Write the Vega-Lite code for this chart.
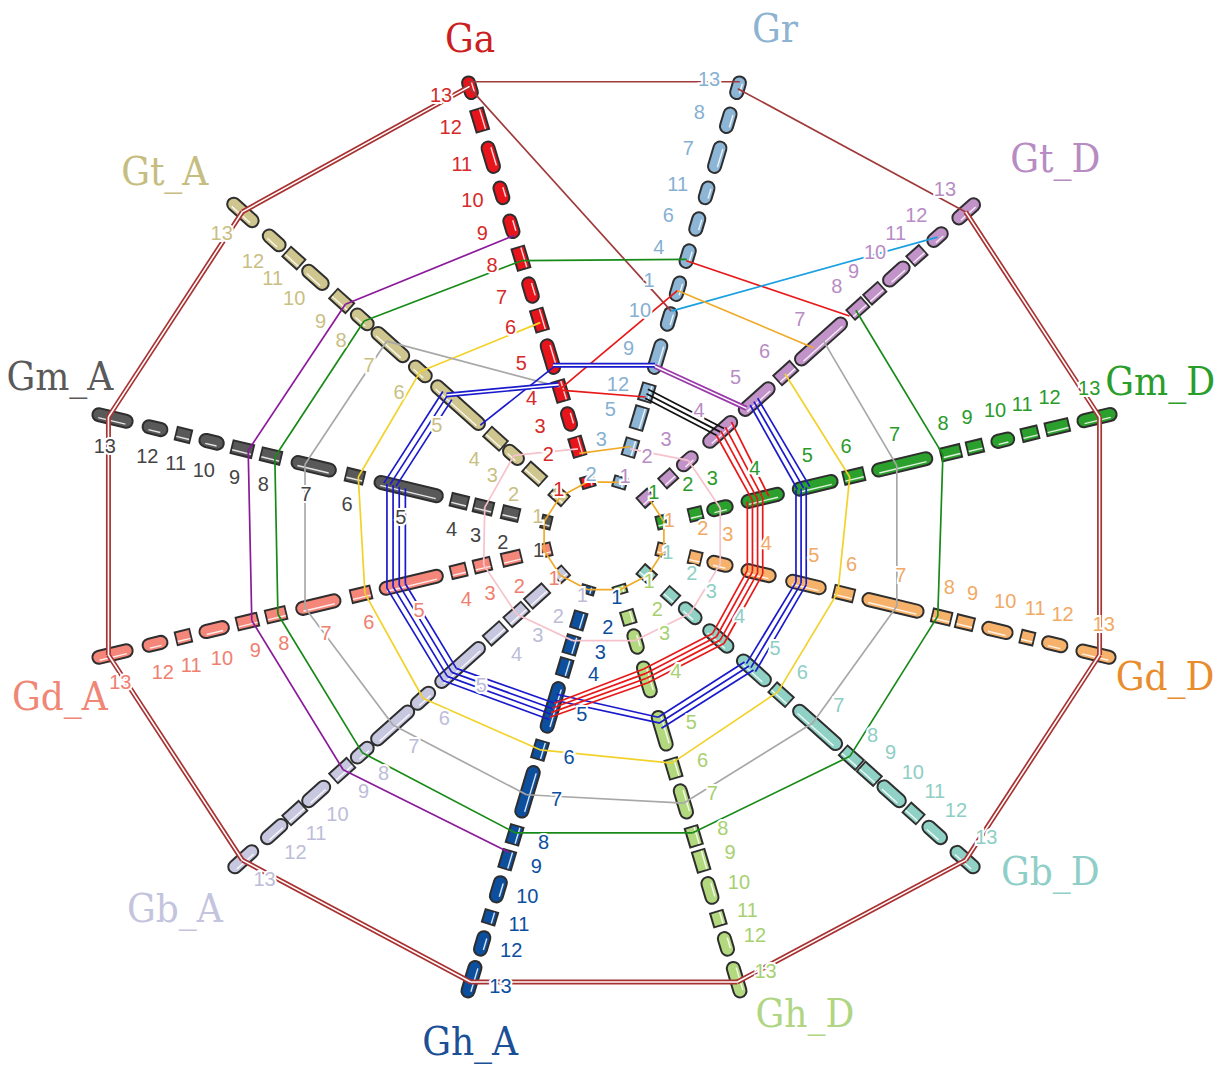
{
"$schema":"https://vega.github.io/schema/vega-lite/v6.json",
"width":1217,"height":1065,"padding":0,"autosize":{"type":"none"},
"background":"white",
"config":{"view":{"stroke":null}},
"datasets":{
"axes":[{"g":"Gr","k":0},{"g":"Gt_D","k":1},{"g":"Gm_D","k":2},{"g":"Gd_D","k":3},{"g":"Gb_D","k":4},{"g":"Gh_D","k":5},{"g":"Gh_A","k":6},{"g":"Gb_A","k":7},{"g":"Gd_A","k":8},{"g":"Gm_A","k":9},{"g":"Gt_A","k":10},{"g":"Ga","k":11}],
"chr":[
{"g":"Ga","c":"13","r0":0.954,"r1":1.0},{"g":"Ga","c":"12","r0":0.885,"r1":0.928},{"g":"Ga","c":"11","r0":0.793,"r1":0.858},{"g":"Ga","c":"10","r0":0.725,"r1":0.771},{"g":"Ga","c":"9","r0":0.651,"r1":0.699},{"g":"Ga","c":"8","r0":0.584,"r1":0.627},{"g":"Ga","c":"7","r0":0.51,"r1":0.562},{"g":"Ga","c":"6","r0":0.449,"r1":0.492},{"g":"Ga","c":"5","r0":0.355,"r1":0.427},{"g":"Ga","c":"4","r0":0.296,"r1":0.336},{"g":"Ga","c":"3","r0":0.231,"r1":0.279},{"g":"Ga","c":"2","r0":0.176,"r1":0.213},{"g":"Ga","c":"1","r0":0.108,"r1":0.128},
{"g":"Gr","c":"13","r0":0.954,"r1":1.0},{"g":"Gr","c":"8","r0":0.88,"r1":0.932},{"g":"Gr","c":"7","r0":0.793,"r1":0.858},{"g":"Gr","c":"11","r0":0.725,"r1":0.771},{"g":"Gr","c":"6","r0":0.656,"r1":0.704},{"g":"Gr","c":"4","r0":0.586,"r1":0.634},{"g":"Gr","c":"1","r0":0.514,"r1":0.564},{"g":"Gr","c":"10","r0":0.449,"r1":0.497},{"g":"Gr","c":"9","r0":0.355,"r1":0.427},{"g":"Gr","c":"12","r0":0.296,"r1":0.329},{"g":"Gr","c":"5","r0":0.235,"r1":0.279},{"g":"Gr","c":"3","r0":0.176,"r1":0.209},{"g":"Gr","c":"2","r0":0.107,"r1":0.126},
{"g":"Gt_D","c":"13","r0":0.935,"r1":0.998},{"g":"Gt_D","c":"12","r0":0.868,"r1":0.912},{"g":"Gt_D","c":"11","r0":0.82,"r1":0.85},{"g":"Gt_D","c":"10","r0":0.75,"r1":0.81},{"g":"Gt_D","c":"9","r0":0.705,"r1":0.74},{"g":"Gt_D","c":"8","r0":0.66,"r1":0.695},{"g":"Gt_D","c":"7","r0":0.515,"r1":0.643},{"g":"Gt_D","c":"6","r0":0.465,"r1":0.505},{"g":"Gt_D","c":"5","r0":0.365,"r1":0.45},{"g":"Gt_D","c":"4","r0":0.27,"r1":0.35},{"g":"Gt_D","c":"3","r0":0.2,"r1":0.245},{"g":"Gt_D","c":"2","r0":0.158,"r1":0.185},{"g":"Gt_D","c":"1","r0":0.1,"r1":0.125},
{"g":"Gm_D","c":"13","r0":0.926,"r1":1.0},{"g":"Gm_D","c":"12","r0":0.865,"r1":0.906},{"g":"Gm_D","c":"11","r0":0.818,"r1":0.846},{"g":"Gm_D","c":"10","r0":0.758,"r1":0.8},{"g":"Gm_D","c":"9","r0":0.711,"r1":0.738},{"g":"Gm_D","c":"8","r0":0.66,"r1":0.695},{"g":"Gm_D","c":"7","r0":0.525,"r1":0.64},{"g":"Gm_D","c":"6","r0":0.47,"r1":0.506},{"g":"Gm_D","c":"5","r0":0.37,"r1":0.455},{"g":"Gm_D","c":"4","r0":0.27,"r1":0.35},{"g":"Gm_D","c":"3","r0":0.203,"r1":0.25},{"g":"Gm_D","c":"2","r0":0.168,"r1":0.19},{"g":"Gm_D","c":"1","r0":0.105,"r1":0.12},
{"g":"Gd_D","c":"13","r0":0.924,"r1":0.998},{"g":"Gd_D","c":"12","r0":0.857,"r1":0.904},{"g":"Gd_D","c":"11","r0":0.816,"r1":0.838},{"g":"Gd_D","c":"10","r0":0.74,"r1":0.797},{"g":"Gd_D","c":"9","r0":0.69,"r1":0.72},{"g":"Gd_D","c":"8","r0":0.643,"r1":0.676},{"g":"Gd_D","c":"7","r0":0.506,"r1":0.623},{"g":"Gd_D","c":"6","r0":0.451,"r1":0.486},{"g":"Gd_D","c":"5","r0":0.357,"r1":0.432},{"g":"Gd_D","c":"4","r0":0.27,"r1":0.334},{"g":"Gd_D","c":"3","r0":0.203,"r1":0.25},{"g":"Gd_D","c":"2","r0":0.168,"r1":0.188},{"g":"Gd_D","c":"1","r0":0.105,"r1":0.12},
{"g":"Gb_D","c":"13","r0":0.93,"r1":0.997},{"g":"Gb_D","c":"12","r0":0.855,"r1":0.91},{"g":"Gb_D","c":"11","r0":0.81,"r1":0.842},{"g":"Gb_D","c":"10","r0":0.735,"r1":0.8},{"g":"Gb_D","c":"9","r0":0.688,"r1":0.728},{"g":"Gb_D","c":"8","r0":0.64,"r1":0.68},{"g":"Gb_D","c":"7","r0":0.51,"r1":0.63},{"g":"Gb_D","c":"6","r0":0.452,"r1":0.493},{"g":"Gb_D","c":"5","r0":0.36,"r1":0.44},{"g":"Gb_D","c":"4","r0":0.27,"r1":0.34},{"g":"Gb_D","c":"3","r0":0.205,"r1":0.255},{"g":"Gb_D","c":"2","r0":0.165,"r1":0.19},{"g":"Gb_D","c":"1","r0":0.1,"r1":0.128},
{"g":"Gh_D","c":"13","r0":0.93,"r1":1.004},{"g":"Gh_D","c":"12","r0":0.865,"r1":0.913},{"g":"Gh_D","c":"11","r0":0.821,"r1":0.847},{"g":"Gh_D","c":"10","r0":0.745,"r1":0.8},{"g":"Gh_D","c":"9","r0":0.688,"r1":0.728},{"g":"Gh_D","c":"8","r0":0.636,"r1":0.673},{"g":"Gh_D","c":"7","r0":0.543,"r1":0.614},{"g":"Gh_D","c":"6","r0":0.488,"r1":0.525},{"g":"Gh_D","c":"5","r0":0.383,"r1":0.466},{"g":"Gh_D","c":"4","r0":0.275,"r1":0.35},{"g":"Gh_D","c":"3","r0":0.205,"r1":0.255},{"g":"Gh_D","c":"2","r0":0.165,"r1":0.19},{"g":"Gh_D","c":"1","r0":0.11,"r1":0.124},
{"g":"Gh_A","c":"13","r0":0.928,"r1":1.004},{"g":"Gh_A","c":"12","r0":0.863,"r1":0.913},{"g":"Gh_A","c":"11","r0":0.819,"r1":0.843},{"g":"Gh_A","c":"10","r0":0.743,"r1":0.797},{"g":"Gh_A","c":"9","r0":0.688,"r1":0.723},{"g":"Gh_A","c":"8","r0":0.634,"r1":0.669},{"g":"Gh_A","c":"7","r0":0.503,"r1":0.612},{"g":"Gh_A","c":"6","r0":0.449,"r1":0.484},{"g":"Gh_A","c":"5","r0":0.32,"r1":0.427},{"g":"Gh_A","c":"4","r0":0.27,"r1":0.303},{"g":"Gh_A","c":"3","r0":0.22,"r1":0.255},{"g":"Gh_A","c":"2","r0":0.168,"r1":0.2},{"g":"Gh_A","c":"1","r0":0.111,"r1":0.124},
{"g":"Gb_A","c":"13","r0":0.928,"r1":0.997},{"g":"Gb_A","c":"12","r0":0.85,"r1":0.91},{"g":"Gb_A","c":"11","r0":0.805,"r1":0.845},{"g":"Gb_A","c":"10","r0":0.736,"r1":0.8},{"g":"Gb_A","c":"9","r0":0.677,"r1":0.72},{"g":"Gb_A","c":"8","r0":0.62,"r1":0.67},{"g":"Gb_A","c":"7","r0":0.512,"r1":0.616},{"g":"Gb_A","c":"6","r0":0.456,"r1":0.51},{"g":"Gb_A","c":"5","r0":0.323,"r1":0.445},{"g":"Gb_A","c":"4","r0":0.27,"r1":0.31},{"g":"Gb_A","c":"3","r0":0.212,"r1":0.255},{"g":"Gb_A","c":"2","r0":0.157,"r1":0.2},{"g":"Gb_A","c":"1","r0":0.104,"r1":0.125},
{"g":"Gd_A","c":"13","r0":0.922,"r1":0.998},{"g":"Gd_A","c":"12","r0":0.854,"r1":0.9},{"g":"Gd_A","c":"11","r0":0.809,"r1":0.834},{"g":"Gd_A","c":"10","r0":0.734,"r1":0.789},{"g":"Gd_A","c":"9","r0":0.678,"r1":0.715},{"g":"Gd_A","c":"8","r0":0.623,"r1":0.658},{"g":"Gd_A","c":"7","r0":0.516,"r1":0.6},{"g":"Gd_A","c":"6","r0":0.457,"r1":0.492},{"g":"Gd_A","c":"5","r0":0.316,"r1":0.437},{"g":"Gd_A","c":"4","r0":0.271,"r1":0.297},{"g":"Gd_A","c":"3","r0":0.223,"r1":0.252},{"g":"Gd_A","c":"2","r0":0.164,"r1":0.197},{"g":"Gd_A","c":"1","r0":0.105,"r1":0.12},
{"g":"Gm_A","c":"13","r0":0.922,"r1":0.998},{"g":"Gm_A","c":"12","r0":0.854,"r1":0.9},{"g":"Gm_A","c":"11","r0":0.809,"r1":0.834},{"g":"Gm_A","c":"10","r0":0.744,"r1":0.789},{"g":"Gm_A","c":"9","r0":0.688,"r1":0.725},{"g":"Gm_A","c":"8","r0":0.633,"r1":0.668},{"g":"Gm_A","c":"7","r0":0.525,"r1":0.609},{"g":"Gm_A","c":"6","r0":0.471,"r1":0.502},{"g":"Gm_A","c":"5","r0":0.316,"r1":0.447},{"g":"Gm_A","c":"4","r0":0.268,"r1":0.297},{"g":"Gm_A","c":"3","r0":0.219,"r1":0.252},{"g":"Gm_A","c":"2","r0":0.168,"r1":0.197},{"g":"Gm_A","c":"1","r0":0.105,"r1":0.12},
{"g":"Gt_A","c":"13","r0":0.927,"r1":1.0},{"g":"Gt_A","c":"12","r0":0.855,"r1":0.905},{"g":"Gt_A","c":"11","r0":0.81,"r1":0.845},{"g":"Gt_A","c":"10","r0":0.74,"r1":0.8},{"g":"Gt_A","c":"9","r0":0.68,"r1":0.72},{"g":"Gt_A","c":"8","r0":0.62,"r1":0.67},{"g":"Gt_A","c":"7","r0":0.525,"r1":0.615},{"g":"Gt_A","c":"6","r0":0.465,"r1":0.515},{"g":"Gt_A","c":"5","r0":0.323,"r1":0.456},{"g":"Gt_A","c":"4","r0":0.27,"r1":0.309},{"g":"Gt_A","c":"3","r0":0.219,"r1":0.264},{"g":"Gt_A","c":"2","r0":0.165,"r1":0.205},{"g":"Gt_A","c":"1","r0":0.105,"r1":0.135}
],
"links":[
{"cls":"13d","a":"Gt_D","ra":0.965,"b":"Gm_D","rb":0.968},{"cls":"13d","a":"Gm_D","ra":0.968,"b":"Gd_D","rb":0.968},{"cls":"13d","a":"Gd_D","ra":0.968,"b":"Gb_D","rb":0.965},{"cls":"13d","a":"Gb_D","ra":0.965,"b":"Gh_D","rb":0.972},{"cls":"13d","a":"Gh_D","ra":0.972,"b":"Gh_A","rb":0.972},{"cls":"13d","a":"Gh_A","ra":0.972,"b":"Gb_A","rb":0.965},{"cls":"13d","a":"Gb_A","ra":0.965,"b":"Gd_A","rb":0.968},{"cls":"13d","a":"Gd_A","ra":0.968,"b":"Gm_A","rb":0.968},{"cls":"13d","a":"Gm_A","ra":0.968,"b":"Gt_A","rb":0.965},{"cls":"13d","a":"Gt_A","ra":0.965,"b":"Ga","rb":0.98},
{"cls":"13","a":"Ga","ra":0.99,"b":"Gr","rb":0.99},{"cls":"13","a":"Gr","ra":0.975,"b":"Gt_D","rb":0.965},{"cls":"13","a":"Ga","ra":0.975,"b":"Gr","rb":0.49},
{"cls":"8","a":"Gt_A","ra":0.64,"b":"Ga","rb":0.6},{"cls":"8","a":"Ga","ra":0.6,"b":"Gr","rb":0.603},{"cls":"8","a":"Gt_D","ra":0.672,"b":"Gm_D","rb":0.662},{"cls":"8","a":"Gm_D","ra":0.662,"b":"Gd_D","rb":0.652},{"cls":"8","a":"Gd_D","ra":0.652,"b":"Gb_D","rb":0.656},{"cls":"8","a":"Gb_D","ra":0.656,"b":"Gh_D","rb":0.647},{"cls":"8","a":"Gh_D","ra":0.647,"b":"Gh_A","rb":0.647},{"cls":"8","a":"Gh_A","ra":0.647,"b":"Gb_A","rb":0.645},{"cls":"8","a":"Gb_A","ra":0.645,"b":"Gd_A","rb":0.637},{"cls":"8","a":"Gd_A","ra":0.637,"b":"Gm_A","rb":0.643},{"cls":"8","a":"Gm_A","ra":0.643,"b":"Gt_A","rb":0.64},
{"cls":"9","a":"Ga","ra":0.655,"b":"Gt_A","rb":0.69},{"cls":"9","a":"Gt_A","ra":0.69,"b":"Gm_A","rb":0.695},{"cls":"9","a":"Gm_A","ra":0.695,"b":"Gd_A","rb":0.688},{"cls":"9","a":"Gd_A","ra":0.688,"b":"Gb_A","rb":0.696},{"cls":"9","a":"Gb_A","ra":0.696,"b":"Gh_A","rb":0.69},
{"cls":"9d","a":"Gr","ra":0.37,"b":"Gt_D","rb":0.38},
{"cls":"6","a":"Ga","ra":0.465,"b":"Gt_A","rb":0.49},{"cls":"6","a":"Gt_A","ra":0.49,"b":"Gm_A","rb":0.48},{"cls":"6","a":"Gm_A","ra":0.48,"b":"Gd_A","rb":0.467},{"cls":"6","a":"Gd_A","ra":0.467,"b":"Gb_A","rb":0.483},{"cls":"6","a":"Gb_A","ra":0.483,"b":"Gh_A","rb":0.466},{"cls":"6","a":"Gh_A","ra":0.466,"b":"Gh_D","rb":0.495},{"cls":"6","a":"Gh_D","ra":0.495,"b":"Gb_D","rb":0.464},{"cls":"6","a":"Gb_D","ra":0.464,"b":"Gd_D","rb":0.457},{"cls":"6","a":"Gd_D","ra":0.457,"b":"Gm_D","rb":0.48},{"cls":"6","a":"Gm_D","ra":0.48,"b":"Gt_D","rb":0.483},
{"cls":"7","a":"Ga","ra":0.325,"b":"Gt_A","rb":0.58},{"cls":"7","a":"Gt_A","ra":0.58,"b":"Gm_A","rb":0.584},{"cls":"7","a":"Gm_A","ra":0.584,"b":"Gd_A","rb":0.584},{"cls":"7","a":"Gd_A","ra":0.584,"b":"Gb_A","rb":0.563},{"cls":"7","a":"Gb_A","ra":0.563,"b":"Gh_A","rb":0.564},{"cls":"7","a":"Gh_A","ra":0.564,"b":"Gh_D","rb":0.582},{"cls":"7","a":"Gh_D","ra":0.582,"b":"Gb_D","rb":0.557},{"cls":"7","a":"Gb_D","ra":0.557,"b":"Gd_D","rb":0.572},{"cls":"7","a":"Gd_D","ra":0.572,"b":"Gm_D","rb":0.572},{"cls":"7","a":"Gm_D","ra":0.572,"b":"Gt_D","rb":0.584},
{"cls":"5d","a":"Ga","ra":0.372,"b":"Gr","rb":0.372},{"cls":"5","a":"Ga","ra":0.368,"b":"Gt_A","rb":0.33},{"cls":"5d","a":"Ga","ra":0.33,"b":"Gt_A","rb":0.42},
{"cls":"5","a":"Gt_A","ra":0.43,"b":"Gm_A","rb":0.43},{"cls":"5","a":"Gt_A","ra":0.418,"b":"Gm_A","rb":0.418},{"cls":"5","a":"Gt_A","ra":0.406,"b":"Gm_A","rb":0.406},
{"cls":"5","a":"Gm_A","ra":0.424,"b":"Gd_A","rb":0.424},{"cls":"5","a":"Gm_A","ra":0.412,"b":"Gd_A","rb":0.412},{"cls":"5","a":"Gm_A","ra":0.4,"b":"Gd_A","rb":0.4},{"cls":"5","a":"Gm_A","ra":0.388,"b":"Gd_A","rb":0.388},
{"cls":"5","a":"Gd_A","ra":0.424,"b":"Gb_A","rb":0.43},{"cls":"5","a":"Gd_A","ra":0.412,"b":"Gb_A","rb":0.418},{"cls":"5","a":"Gd_A","ra":0.4,"b":"Gb_A","rb":0.406},{"cls":"5","a":"Gd_A","ra":0.388,"b":"Gb_A","rb":0.394},
{"cls":"5","a":"Gb_A","ra":0.43,"b":"Gh_A","rb":0.4},{"cls":"5","a":"Gb_A","ra":0.418,"b":"Gh_A","rb":0.388},{"cls":"5","a":"Gb_A","ra":0.406,"b":"Gh_A","rb":0.376},{"cls":"5","a":"Gb_A","ra":0.394,"b":"Gh_A","rb":0.364},
{"cls":"5","a":"Gh_A","ra":0.345,"b":"Gh_D","rb":0.395},{"cls":"5","a":"Gh_A","ra":0.358,"b":"Gh_D","rb":0.408},
{"cls":"5","a":"Gh_D","ra":0.395,"b":"Gb_D","rb":0.375},{"cls":"5","a":"Gh_D","ra":0.407,"b":"Gb_D","rb":0.387},{"cls":"5","a":"Gh_D","ra":0.419,"b":"Gb_D","rb":0.399},
{"cls":"5","a":"Gb_D","ra":0.38,"b":"Gd_D","rb":0.375},{"cls":"5","a":"Gb_D","ra":0.392,"b":"Gd_D","rb":0.385},{"cls":"5","a":"Gb_D","ra":0.404,"b":"Gd_D","rb":0.395},
{"cls":"5","a":"Gd_D","ra":0.375,"b":"Gm_D","rb":0.375},{"cls":"5","a":"Gd_D","ra":0.385,"b":"Gm_D","rb":0.385},{"cls":"5","a":"Gd_D","ra":0.395,"b":"Gm_D","rb":0.395},
{"cls":"5","a":"Gm_D","ra":0.378,"b":"Gt_D","rb":0.39},{"cls":"5","a":"Gm_D","ra":0.39,"b":"Gt_D","rb":0.4},{"cls":"5","a":"Gm_D","ra":0.402,"b":"Gt_D","rb":0.41},
{"cls":"4","a":"Gt_D","ra":0.3,"b":"Gm_D","rb":0.29},{"cls":"4","a":"Gt_D","ra":0.312,"b":"Gm_D","rb":0.3},{"cls":"4","a":"Gt_D","ra":0.324,"b":"Gm_D","rb":0.31},{"cls":"4","a":"Gt_D","ra":0.34,"b":"Gm_D","rb":0.322},
{"cls":"4","a":"Gm_D","ra":0.28,"b":"Gd_D","rb":0.28},{"cls":"4","a":"Gm_D","ra":0.29,"b":"Gd_D","rb":0.29},{"cls":"4","a":"Gm_D","ra":0.3,"b":"Gd_D","rb":0.3},{"cls":"4","a":"Gm_D","ra":0.31,"b":"Gd_D","rb":0.31},
{"cls":"4","a":"Gd_D","ra":0.28,"b":"Gb_D","rb":0.29},{"cls":"4","a":"Gd_D","ra":0.29,"b":"Gb_D","rb":0.3},{"cls":"4","a":"Gd_D","ra":0.3,"b":"Gb_D","rb":0.31},{"cls":"4","a":"Gd_D","ra":0.31,"b":"Gb_D","rb":0.32},
{"cls":"4","a":"Gb_D","ra":0.29,"b":"Gh_D","rb":0.29},{"cls":"4","a":"Gb_D","ra":0.3,"b":"Gh_D","rb":0.3},{"cls":"4","a":"Gb_D","ra":0.31,"b":"Gh_D","rb":0.31},{"cls":"4","a":"Gb_D","ra":0.32,"b":"Gh_D","rb":0.32},
{"cls":"4","a":"Gh_D","ra":0.29,"b":"Gh_A","rb":0.365},{"cls":"4","a":"Gh_D","ra":0.3,"b":"Gh_A","rb":0.375},{"cls":"4","a":"Gh_D","ra":0.31,"b":"Gh_A","rb":0.385},{"cls":"4","a":"Gh_D","ra":0.32,"b":"Gh_A","rb":0.395},
{"cls":"4","a":"Ga","ra":0.318,"b":"Gr","rb":0.303},{"cls":"4","a":"Ga","ra":0.32,"b":"Gr","rb":0.535},{"cls":"4","a":"Gr","ra":0.6,"b":"Gt_D","rb":0.655},
{"cls":"k","a":"Gr","ra":0.3,"b":"Gt_D","rb":0.3},{"cls":"k","a":"Gr","ra":0.31,"b":"Gt_D","rb":0.31},{"cls":"k","a":"Gr","ra":0.32,"b":"Gt_D","rb":0.32},
{"cls":"12","a":"Gr","ra":0.49,"b":"Gt_D","rb":0.89},
{"cls":"1","a":"Gr","ra":0.535,"b":"Gt_D","rb":0.56},{"cls":"1","a":"Ga","ra":0.18,"b":"Gr","rb":0.195},
{"cls":"1","a":"Ga","ra":0.118,"b":"Gr","rb":0.117},{"cls":"1","a":"Gt_D","ra":0.117,"b":"Gm_D","rb":0.117},{"cls":"1","a":"Gm_D","ra":0.117,"b":"Gd_D","rb":0.117},{"cls":"1","a":"Gd_D","ra":0.117,"b":"Gb_D","rb":0.117},{"cls":"1","a":"Gb_D","ra":0.117,"b":"Gh_D","rb":0.117},{"cls":"1","a":"Gh_D","ra":0.117,"b":"Gh_A","rb":0.117},{"cls":"1","a":"Gh_A","ra":0.117,"b":"Gb_A","rb":0.117},{"cls":"1","a":"Gb_A","ra":0.117,"b":"Gd_A","rb":0.117},{"cls":"1","a":"Gd_A","ra":0.117,"b":"Gm_A","rb":0.117},{"cls":"1","a":"Gm_A","ra":0.117,"b":"Gt_A","rb":0.117},{"cls":"1","a":"Gt_A","ra":0.117,"b":"Ga","rb":0.118},
{"cls":"3","a":"Gt_D","ra":0.225,"b":"Gm_D","rb":0.227},{"cls":"3","a":"Gm_D","ra":0.227,"b":"Gd_D","rb":0.227},{"cls":"3","a":"Gd_D","ra":0.227,"b":"Gb_D","rb":0.23},{"cls":"3","a":"Gb_D","ra":0.23,"b":"Gh_D","rb":0.228},{"cls":"3","a":"Gh_D","ra":0.228,"b":"Gh_A","rb":0.228},{"cls":"3","a":"Gh_A","ra":0.228,"b":"Gb_A","rb":0.233},{"cls":"3","a":"Gb_A","ra":0.233,"b":"Gd_A","rb":0.235},{"cls":"3","a":"Gd_A","ra":0.235,"b":"Gm_A","rb":0.233},{"cls":"3","a":"Gm_A","ra":0.233,"b":"Gt_A","rb":0.24},{"cls":"3","a":"Gt_A","ra":0.24,"b":"Ga","rb":0.19},{"cls":"3","a":"Gt_D","ra":0.225,"b":"Gr","rb":0.19}
]
},
"resolve":{"scale":{"color":"independent"}},
"layer":[
{
"data":{"name":"chr"},
"transform":[
{"lookup":"g","from":{"data":{"name":"axes"},"key":"g","fields":["k"]}},
{"calculate":"(datum.k*30+15)*PI/180","as":"a"},
{"calculate":"530*sin(datum.a)","as":"sx"},
{"calculate":"475*cos(datum.a)","as":"sy"},
{"calculate":"sqrt(datum.sx*datum.sx+datum.sy*datum.sy)","as":"n"},
{"calculate":"(datum.r1-datum.r0)*datum.n","as":"L"},
{"calculate":"datum.L>=22?6/datum.n:-1.8/datum.n","as":"eo"},
{"calculate":"datum.L>=22?6/datum.n:0","as":"ef"},
{"calculate":"(datum.r0+datum.eo)*datum.sx","as":"oxa"},
{"calculate":"(datum.r0+datum.eo)*datum.sy","as":"oya"},
{"calculate":"(datum.r1-datum.eo)*datum.sx","as":"oxb"},
{"calculate":"(datum.r1-datum.eo)*datum.sy","as":"oyb"},
{"calculate":"(datum.r0+datum.ef)*datum.sx","as":"fxa"},
{"calculate":"(datum.r0+datum.ef)*datum.sy","as":"fya"},
{"calculate":"(datum.r1-datum.ef)*datum.sx","as":"fxb"},
{"calculate":"(datum.r1-datum.ef)*datum.sy","as":"fyb"},
{"calculate":"((-datum.sy-datum.sx)>=0?1:-1)*3/datum.n","as":"sg"},
{"calculate":"-datum.sy*datum.sg","as":"px"},
{"calculate":"datum.sx*datum.sg","as":"py"}
],
"layer":[
{"transform":[{"filter":"datum.L>=22"}],"mark":{"type":"rule","strokeWidth":15,"strokeCap":"round","color":"#2e2e2e"},
"encoding":{"x":{"field":"oxa","type":"quantitative","scale":{"domain":[-604,613],"nice":false,"zero":false},"axis":null},"y":{"field":"oya","type":"quantitative","scale":{"domain":[-529,536],"nice":false,"zero":false},"axis":null},"x2":{"field":"oxb"},"y2":{"field":"oyb"}}},
{"transform":[{"filter":"datum.L<22"}],"mark":{"type":"rule","strokeWidth":15,"strokeCap":"butt","color":"#2e2e2e"},
"encoding":{"x":{"field":"oxa","type":"quantitative","scale":{"domain":[-604,613],"nice":false,"zero":false},"axis":null},"y":{"field":"oya","type":"quantitative","scale":{"domain":[-529,536],"nice":false,"zero":false},"axis":null},"x2":{"field":"oxb"},"y2":{"field":"oyb"}}},
{"transform":[{"filter":"datum.L>=22"}],"mark":{"type":"rule","strokeWidth":11,"strokeCap":"round"},
"encoding":{"x":{"field":"fxa","type":"quantitative","scale":{"domain":[-604,613],"nice":false,"zero":false},"axis":null},"y":{"field":"fya","type":"quantitative","scale":{"domain":[-529,536],"nice":false,"zero":false},"axis":null},"x2":{"field":"fxb"},"y2":{"field":"fyb"},
"color":{"field":"g","type":"nominal","legend":null,"scale":{"domain":["Gr","Gt_D","Gm_D","Gd_D","Gb_D","Gh_D","Gh_A","Gb_A","Gd_A","Gm_A","Gt_A","Ga"],"range":["#8cb5d6","#c193c9","#2ca02c","#f6b26b","#8fd1c5","#b3d97f","#0c4f9e","#c7c7e0","#f4867a","#595959","#cfc58e","#e8141c"]}}}},
{"transform":[{"filter":"datum.L<22"}],"mark":{"type":"rule","strokeWidth":11,"strokeCap":"butt"},
"encoding":{"x":{"field":"fxa","type":"quantitative","scale":{"domain":[-604,613],"nice":false,"zero":false},"axis":null},"y":{"field":"fya","type":"quantitative","scale":{"domain":[-529,536],"nice":false,"zero":false},"axis":null},"x2":{"field":"fxb"},"y2":{"field":"fyb"},
"color":{"field":"g","type":"nominal","legend":null,"scale":{"domain":["Gr","Gt_D","Gm_D","Gd_D","Gb_D","Gh_D","Gh_A","Gb_A","Gd_A","Gm_A","Gt_A","Ga"],"range":["#8cb5d6","#c193c9","#2ca02c","#f6b26b","#8fd1c5","#b3d97f","#0c4f9e","#c7c7e0","#f4867a","#595959","#cfc58e","#e8141c"]}}}},
{"transform":[{"calculate":"datum.fxa+datum.px","as":"hxa"},{"calculate":"datum.fya+datum.py","as":"hya"},{"calculate":"datum.fxb+datum.px","as":"hxb"},{"calculate":"datum.fyb+datum.py","as":"hyb"}],
"mark":{"type":"rule","strokeWidth":1.4,"strokeCap":"butt","color":"white","opacity":0.85},
"encoding":{"x":{"field":"hxa","type":"quantitative","scale":{"domain":[-604,613],"nice":false,"zero":false},"axis":null},"y":{"field":"hya","type":"quantitative","scale":{"domain":[-529,536],"nice":false,"zero":false},"axis":null},"x2":{"field":"hxb"},"y2":{"field":"hyb"}}}
]
},
{
"data":{"name":"links"},
"transform":[
{"lookup":"a","from":{"data":{"name":"axes"},"key":"g","fields":["k"]},"as":["ka"]},
{"lookup":"b","from":{"data":{"name":"axes"},"key":"g","fields":["k"]},"as":["kb"]},
{"calculate":"(datum.ka*30+15)*PI/180","as":"aa"},
{"calculate":"(datum.kb*30+15)*PI/180","as":"ab"},
{"calculate":"datum.ra*530*sin(datum.aa)","as":"xa"},
{"calculate":"datum.ra*475*cos(datum.aa)","as":"ya"},
{"calculate":"datum.rb*530*sin(datum.ab)","as":"xb"},
{"calculate":"datum.rb*475*cos(datum.ab)","as":"yb"}
],
"layer":[
{"transform":[{"filter":"indexof(['13d','9d','5d'],datum.cls)<0"}],
"mark":{"type":"rule","strokeWidth":1.7},
"encoding":{"x":{"field":"xa","type":"quantitative","scale":{"domain":[-604,613],"nice":false,"zero":false},"axis":null},"y":{"field":"ya","type":"quantitative","scale":{"domain":[-529,536],"nice":false,"zero":false},"axis":null},"x2":{"field":"xb"},"y2":{"field":"yb"},
"color":{"field":"cls","type":"nominal","legend":null,"scale":{"domain":["13d","13","9","9d","8","7","6","5","5d","4","3","1","12","k"],"range":["#a83232","#a03a3a","#8a1a9a","#9a3aaa","#188a18","#a8a8a8","#f2d22a","#1a1acc","#1a1acc","#e81818","#f6c2cc","#f0aa28","#1aa0e0","#111111"]}}}},
{"transform":[{"filter":"indexof(['13d','9d','5d'],datum.cls)>=0"}],
"mark":{"type":"rule","strokeWidth":5},
"encoding":{"x":{"field":"xa","type":"quantitative","scale":{"domain":[-604,613],"nice":false,"zero":false},"axis":null},"y":{"field":"ya","type":"quantitative","scale":{"domain":[-529,536],"nice":false,"zero":false},"axis":null},"x2":{"field":"xb"},"y2":{"field":"yb"},
"color":{"field":"cls","type":"nominal","legend":null,"scale":{"domain":["13d","9d","5d"],"range":["#a83232","#9a3aaa","#1a1acc"]}}}},
{"transform":[{"filter":"indexof(['13d','9d','5d'],datum.cls)>=0"}],
"mark":{"type":"rule","strokeWidth":1.6,"color":"white"},
"encoding":{"x":{"field":"xa","type":"quantitative","scale":{"domain":[-604,613],"nice":false,"zero":false},"axis":null},"y":{"field":"ya","type":"quantitative","scale":{"domain":[-529,536],"nice":false,"zero":false},"axis":null},"x2":{"field":"xb"},"y2":{"field":"yb"}}}
]
},
{
"data":{"name":"chr"},
"transform":[
{"lookup":"g","from":{"data":{"name":"axes"},"key":"g","fields":["k"]}},
{"calculate":"(datum.k*30+15)*PI/180","as":"a"},
{"calculate":"(datum.r0+datum.r1)/2","as":"m"},
{"calculate":"datum.m*530*sin(datum.a)-30*cos(datum.a)","as":"lx"},
{"calculate":"datum.m*475*cos(datum.a)+30*sin(datum.a)","as":"ly"}
],
"layer":[
{"mark":{"type":"text","font":"Liberation Sans","fontSize":20,"align":"center","baseline":"middle","stroke":"white","strokeWidth":4,"color":"white"},
"encoding":{"x":{"field":"lx","type":"quantitative","scale":{"domain":[-604,613],"nice":false,"zero":false},"axis":null},"y":{"field":"ly","type":"quantitative","scale":{"domain":[-529,536],"nice":false,"zero":false},"axis":null},"text":{"field":"c"}}},
{"mark":{"type":"text","font":"Liberation Sans","fontSize":20,"align":"center","baseline":"middle"},
"encoding":{"x":{"field":"lx","type":"quantitative","scale":{"domain":[-604,613],"nice":false,"zero":false},"axis":null},"y":{"field":"ly","type":"quantitative","scale":{"domain":[-529,536],"nice":false,"zero":false},"axis":null},"text":{"field":"c"},
"color":{"field":"g","type":"nominal","legend":null,"scale":{"domain":["Gr","Gt_D","Gm_D","Gd_D","Gb_D","Gh_D","Gh_A","Gb_A","Gd_A","Gm_A","Gt_A","Ga"],"range":["#86b0d2","#b88cc4","#2a9a2a","#f0aa66","#8ecec4","#a8d070","#0c4f9e","#bdbdd9","#ef8070","#444444","#c9bf84","#d42a2a"]}}}}
]
},
{
"data":{"name":"axes"},
"transform":[
{"calculate":"(datum.k*30+15)*PI/180","as":"a"},
{"calculate":"1.1*530*sin(datum.a)+[20,39,-7,-2,34,50,17,-17,19,19,-27,17][datum.k]","as":"tx"},
{"calculate":"1.1*475*cos(datum.a)-[-1,-7,-18,7,-32,-26,2,5,27,-23,6,9][datum.k]","as":"ty"}
],
"mark":{"type":"text","font":"DejaVu Serif Condensed, Liberation Serif, serif","fontSize":40,"align":"center","baseline":"middle"},
"encoding":{"x":{"field":"tx","type":"quantitative","scale":{"domain":[-604,613],"nice":false,"zero":false},"axis":null},"y":{"field":"ty","type":"quantitative","scale":{"domain":[-529,536],"nice":false,"zero":false},"axis":null},"text":{"field":"g"},
"color":{"field":"g","type":"nominal","legend":null,"scale":{"domain":["Gr","Gt_D","Gm_D","Gd_D","Gb_D","Gh_D","Gh_A","Gb_A","Gd_A","Gm_A","Gt_A","Ga"],"range":["#8db3d2","#b68cc2","#2a9d2a","#e98c2c","#90cfc8","#b0d683","#1b4f96","#c4c4de","#f08676","#5a5a5a","#c6bd80","#cc1f1f"]}}}
}
]
}
